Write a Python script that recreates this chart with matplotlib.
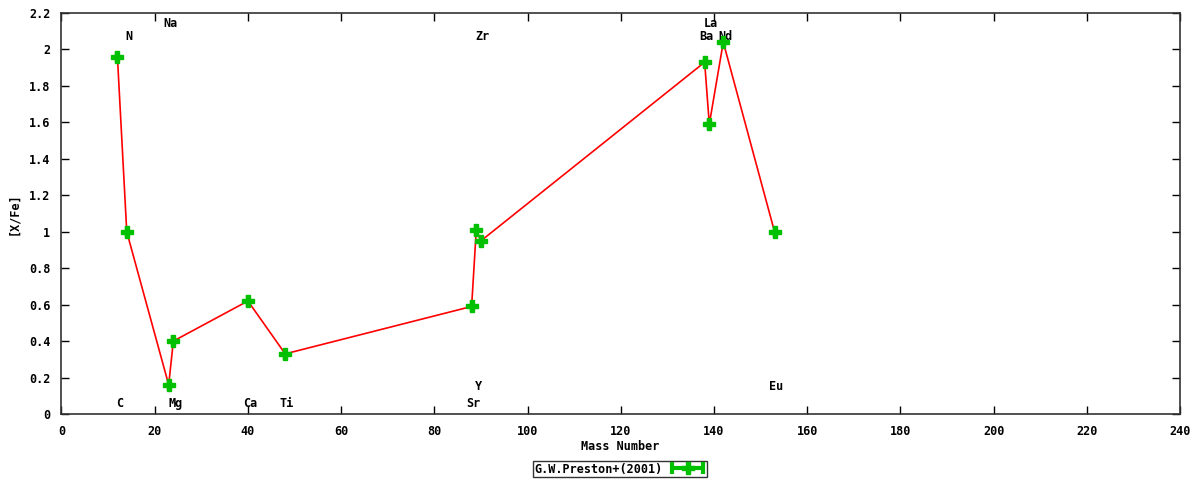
import matplotlib.pyplot as plt
from matplotlib.legend_handler import HandlerErrorbar

# element data (mass number, [X/Fe])
elements = ['C', 'N', 'Na', 'Mg', 'Ca', 'Ti', 'Sr', 'Y', 'Zr', 'Ba', 'La', 'Nd', 'Eu']
mass = [12, 14, 23, 24, 40, 48, 88, 89, 90, 138, 139, 142, 153]
xfe = [1.96, 1.00, 0.16, 0.40, 0.62, 0.33, 0.59, 1.01, 0.95, 1.93, 1.59, 2.04, 1.00]
xerr = [0] * len(mass)
label_y = [0.06, 2.07, 2.14, 0.06, 0.06, 0.06, 0.06, 0.15, 2.07, 2.07, 2.14, 2.07, 0.15]

xticks = list(range(0, 241, 20))
yticks = [0, 0.2, 0.4, 0.6, 0.8, 1, 1.2, 1.4, 1.6, 1.8, 2, 2.2]
ytick_labels = ['0', '0.2', '0.4', '0.6', '0.8', '1', '1.2', '1.4', '1.6', '1.8', '2', '2.2']

mono = {'family': 'DejaVu Sans Mono', 'weight': 'bold', 'size': 8.5}
green = '#00c000'

fig = plt.figure(figsize=(12, 4.8), dpi=100)
ax = fig.add_axes([61.5 / 1200, 1 - 414 / 480, (1180 - 61.5) / 1200, (414 - 13) / 480])

ax.plot(mass, xfe, color='red', lw=1.2, zorder=2)
eb = ax.errorbar(mass, xfe, xerr=xerr, ls='none', marker='P', ms=9, color=green,
                 mec=green, ecolor=green, elinewidth=3, capsize=4, capthick=3,
                 zorder=3, label='G.W.Preston+(2001)')

for el, m, ly in zip(elements, mass, label_y):
    ax.text(m + 0.4, ly, el, ha='center', va='center', fontdict=mono)

ax.set_xlim(0, 240)
ax.set_ylim(0, 2.2)
ax.set_xticks(xticks)
ax.set_xticklabels([str(t) for t in xticks], fontdict=mono)
ax.set_yticks(yticks)
ax.set_yticklabels(ytick_labels, fontdict=mono)
ax.tick_params(direction='in', length=6, width=1, top=True, right=True, pad=8)
for s in ax.spines.values():
    s.set_linewidth(1.2)
    s.set_color('#333333')

fig.text(620 / 1200, 1 - 447 / 480, 'Mass Number', ha='center', va='center', fontdict=mono)
fig.text(14 / 1200, 1 - 214 / 480, '[X/Fe]', ha='center', va='center', rotation=90, fontdict=mono)

# legend below the axes
leg = fig.legend([eb], ['G.W.Preston+(2001)'], loc='center',
                 bbox_to_anchor=(620 / 1200, 1 - 469 / 480), prop=mono,
                 frameon=True, fancybox=False, borderpad=0.15, handlelength=3,
                 handletextpad=0.6, borderaxespad=0, markerfirst=False,
                 handler_map={eb: HandlerErrorbar(xerr_size=1.3, numpoints=1)})
leg.get_frame().set_edgecolor('black')
leg.get_frame().set_linewidth(1)

fig.savefig('out.png', dpi=100)
